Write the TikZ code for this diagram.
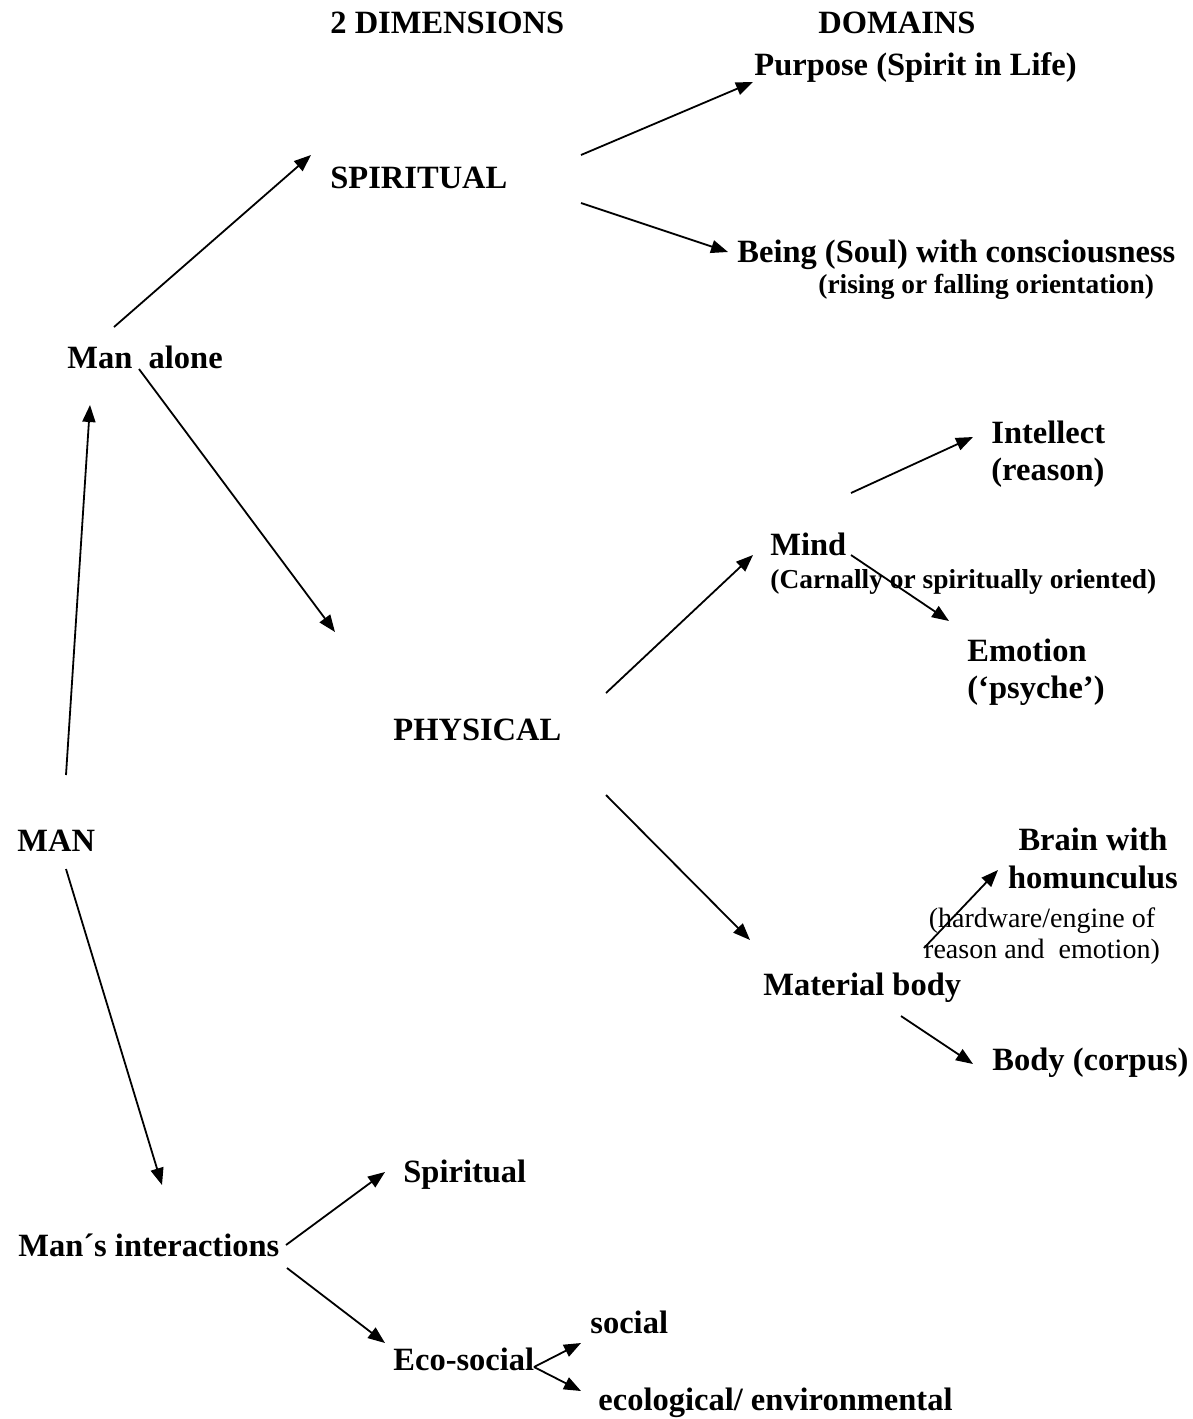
\documentclass[tikz,border=0pt]{standalone}
\usepackage{fontspec}
\setmainfont{Liberation Serif}
\usepackage{tikz}
\usetikzlibrary{calc,positioning}
\usetikzlibrary{arrows.meta}
\tikzset{>={Triangle[length=8.5pt,width=6.5pt]}}

\begin{document}
\begin{tikzpicture}[x=0.5pt,y=-0.5pt]
        \tikzstyle{tnode} = [inner sep = 0pt, anchor = base west, font=\fontsize{16.25}{18.5}\selectfont\bfseries, align=left]
        \tikzstyle{snode} = [inner sep = 0pt, anchor = base west, font=\fontsize{13.7}{16}\selectfont\bfseries]
        \tikzstyle{rnode} = [inner sep = 0pt, anchor = base, font=\fontsize{14}{15.5}\selectfont, align=center]
        \tikzstyle{conn} = [->, line width = 0.9pt]

        \useasboundingbox (0,0) rectangle (1193,1419);

        % headings
        \node[tnode] (dims) at (330,33) {2 DIMENSIONS};
        \node[tnode] (domains) at (818,33) {DOMAINS};

        % man alone, spiritual side
        \node[tnode] (purpose) at (754,75) {Purpose (Spirit in Life)};
        \node[tnode] (spiritual) at (330,188) {SPIRITUAL};
        \node[tnode] (being) at (737,262) {Being (Soul) with consciousness};
        \node[snode] (rising) at (818,293) {(rising or falling orientation)};
        \node[tnode] (manalone) at (67,368) {Man\ \ alone};

        % man alone, physical side (two line nodes sit on their last line)
        \node[tnode] (intellect) at (991,480) {Intellect\\(reason)};
        \node[tnode] (mind) at (770,555) {Mind};
        \node[snode] (carnally) at (770,588) {(Carnally or spiritually oriented)};
        \node[tnode] (emotion) at (967,698) {Emotion\\(‘psyche’)};
        \node[tnode] (physical) at (393,740) {PHYSICAL};
        \node[tnode] (man) at (17,851) {MAN};
        \node[tnode, anchor=base, align=center, font=\fontsize{16.25}{19}\selectfont\bfseries] (brain) at (1093,888) {Brain with\\homunculus};
        \node[rnode] (hardware) at (1042,958) {(hardware/engine of\\reason and\ \ emotion)};
        \node[tnode] (material) at (763,995) {Material body};
        \node[tnode] (corpus) at (992,1070) {Body (corpus)};

        % interactions
        \node[tnode] (spiritualb) at (403,1182) {Spiritual};
        \node[tnode] (interactions) at (18,1256) {Man´s interactions};
        \node[tnode] (social) at (590,1333) {social};
        \node[tnode] (ecosocial) at (393,1370) {Eco-social};
        \node[tnode] (ecological) at (598,1410) {ecological/ environmental};

        \draw[conn] ([shift={(49,-76)}]man.base west) -- ([shift={(23,37)}]manalone.base west);
        \draw[conn] ([shift={(49,18)}]man.base west) -- ([shift={(144,-71)}]interactions.base west);
        \draw[conn] ([shift={(47,-41)}]manalone.base west) -- ([shift={(-19,-33)}]spiritual.base west);
        \draw[conn] ([shift={(72,1)}]manalone.base west) -- ([shift={(-58,-108)}]physical.base west);

        \draw[conn] ([shift={(251,-33)}]spiritual.base west) -- ([shift={(-1,7)}]purpose.base west);
        \draw[conn] ([shift={(251,15)}]spiritual.base west) -- ([shift={(-9,-10)}]being.base west);

        \draw[conn] ([shift={(213,-47)}]physical.base west) -- ([shift={(-17,0)}]mind.base west);
        \draw[conn] ([shift={(213,55)}]physical.base west) -- ([shift={(-13,-55)}]material.base west);
        \draw[conn] ([shift={(81,-62)}]mind.base west) -- ([shift={(-18,-43)}]intellect.base west);
        \draw[conn] ([shift={(81,0)}]mind.base west) -- ([shift={(-18,-77)}]emotion.base west);
        \draw[conn] ([shift={(161,-47)}]material.base west) -- ([shift={(-95,-18)}]brain.base);
        \draw[conn] ([shift={(138,21)}]material.base west) -- ([shift={(-19,-6)}]corpus.base west);

        \draw[conn] ([shift={(268,-11)}]interactions.base west) -- ([shift={(-18,-10)}]spiritualb.base west);
        \draw[conn] ([shift={(269,12)}]interactions.base west) -- ([shift={(-8,-27)}]ecosocial.base west);
        \draw[conn] ([shift={(141,-3)}]ecosocial.base west) -- ([shift={(-9,10)}]social.base west);
        \draw[conn] ([shift={(141,-3)}]ecosocial.base west) -- ([shift={(-17,-19)}]ecological.base west);
\end{tikzpicture}
\end{document}
